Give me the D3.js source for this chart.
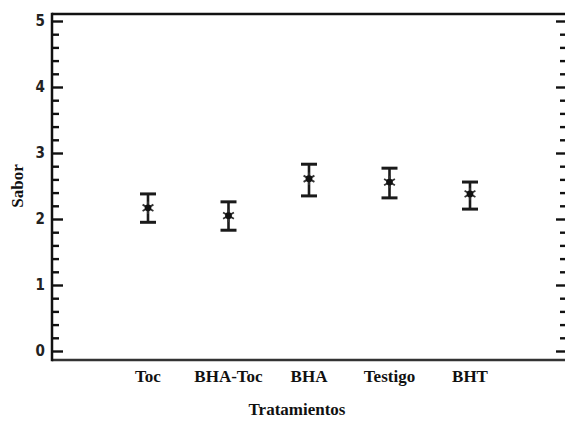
<!DOCTYPE html>
<html>
<head>
<meta charset="utf-8">
<script src="https://cdn.jsdelivr.net/npm/d3@7"></script>
<style>
  html, body { margin: 0; padding: 0; background: #fff; }
  svg { display: block; }
</style>
</head>
<body>
<svg id="chart" width="565" height="425"></svg>
<script>
// Treatments and their mean "Sabor" scores with interval limits
const categories = ["Toc", "BHA-Toc", "BHA", "Testigo", "BHT"];
const means = [2.17, 2.05, 2.61, 2.56, 2.38];
const lowerLimits = [1.95, 1.83, 2.35, 2.32, 2.15];
const upperLimits = [2.38, 2.26, 2.83, 2.77, 2.56];
const yTickValues = [0, 1, 2, 3, 4, 5];

const svg = d3.select("#chart");
const frame = { left: 52, right: 566, top: 14, bottom: 360 };

const x = d3.scalePoint().domain(categories).range([148, 470]);
const y = d3.scaleLinear().domain([0, 5]).range([351, 21]);

const ink = "#111";

// Left axis with major and minor ticks
const leftMajor = d3.axisRight(y).tickValues(yTickValues).tickSize(11).tickFormat("");
const minorVals = d3.range(0, 5.0001, 0.2).filter(v => Math.abs(v - Math.round(v)) > 1e-6);
const leftMinor = d3.axisRight(y).tickValues(minorVals).tickSize(7).tickFormat("");

function styleAxis(g) {
  g.select(".domain").remove();
  g.selectAll(".tick line").attr("stroke", ink).attr("stroke-width", 2.4);
}

svg.append("g").attr("transform", `translate(${frame.left},0)`).call(leftMajor).call(styleAxis);
svg.append("g").attr("transform", `translate(${frame.left},0)`).call(leftMinor).call(styleAxis);

// Right side ticks pointing inward
const rightMajor = d3.axisLeft(y).tickValues(yTickValues).tickSize(10).tickFormat("");
const rightMinor = d3.axisLeft(y).tickValues(minorVals).tickSize(6).tickFormat("");
svg.append("g").attr("transform", `translate(${frame.right},0)`).call(rightMajor).call(styleAxis);
svg.append("g").attr("transform", `translate(${frame.right},0)`).call(rightMinor).call(styleAxis);

// Y tick labels
svg.append("g").selectAll("text").data(yTickValues).join("text")
  .attr("x", frame.left - 7)
  .attr("y", d => y(d))
  .attr("dy", "0.36em")
  .attr("text-anchor", "end")
  .attr("font-family", "DejaVu Sans Condensed, Liberation Sans, sans-serif")
  .attr("font-weight", "bold")
  .attr("font-size", 15)
  .attr("fill", "#222")
  .text(d => d);

// Frame
svg.append("line").attr("x1", frame.left).attr("x2", frame.right).attr("y1", frame.top).attr("y2", frame.top)
  .attr("stroke", ink).attr("stroke-width", 2.5);
svg.append("line").attr("x1", frame.left).attr("x2", frame.right).attr("y1", frame.bottom).attr("y2", frame.bottom)
  .attr("stroke", "#333").attr("stroke-width", 2.5);
svg.append("line").attr("x1", frame.left).attr("x2", frame.left).attr("y1", frame.top - 1.2).attr("y2", frame.bottom + 1.2)
  .attr("stroke", ink).attr("stroke-width", 2.5);

// Error bars
const rows = categories.map((c, i) => ({ c, m: means[i], lo: lowerLimits[i], hi: upperLimits[i] }));
const capHalf = 8;
const bars = svg.append("g").selectAll("g").data(rows).join("g");
bars.append("line")
  .attr("x1", d => x(d.c)).attr("x2", d => x(d.c))
  .attr("y1", d => y(d.hi)).attr("y2", d => y(d.lo))
  .attr("stroke", "#1a1a1a").attr("stroke-width", 2.6);
bars.append("line")
  .attr("x1", d => x(d.c) - capHalf).attr("x2", d => x(d.c) + capHalf)
  .attr("y1", d => y(d.hi)).attr("y2", d => y(d.hi))
  .attr("stroke", "#1a1a1a").attr("stroke-width", 3);
bars.append("line")
  .attr("x1", d => x(d.c) - capHalf).attr("x2", d => x(d.c) + capHalf)
  .attr("y1", d => y(d.lo)).attr("y2", d => y(d.lo))
  .attr("stroke", "#1a1a1a").attr("stroke-width", 3);

// Mean markers
bars.append("path")
  .attr("d", d3.symbol(d3.symbolAsterisk, 110)())
  .attr("transform", d => `translate(${x(d.c)},${y(d.m)})`)
  .attr("fill", "none").attr("stroke", "#333").attr("stroke-width", 1.8);
bars.append("circle")
  .attr("cx", d => x(d.c)).attr("cy", d => y(d.m)).attr("r", 3.4)
  .attr("fill", "#111");

// Category labels
svg.append("g").selectAll("text").data(categories).join("text")
  .attr("x", d => x(d))
  .attr("y", 382)
  .attr("text-anchor", "middle")
  .attr("font-family", "Liberation Serif, Times New Roman, serif")
  .attr("font-weight", "bold")
  .attr("font-size", 17)
  .attr("fill", "#111")
  .text(d => d);

// Axis titles
svg.append("text")
  .attr("x", 297).attr("y", 415)
  .attr("text-anchor", "middle")
  .attr("font-family", "Liberation Serif, Times New Roman, serif")
  .attr("font-weight", "bold")
  .attr("font-size", 17)
  .attr("fill", "#111")
  .text("Tratamientos");

svg.append("text")
  .attr("transform", "translate(23,186) rotate(-90)")
  .attr("text-anchor", "middle")
  .attr("font-family", "Liberation Serif, Times New Roman, serif")
  .attr("font-weight", "bold")
  .attr("font-size", 17)
  .attr("fill", "#111")
  .text("Sabor");
</script>
</body>
</html>
